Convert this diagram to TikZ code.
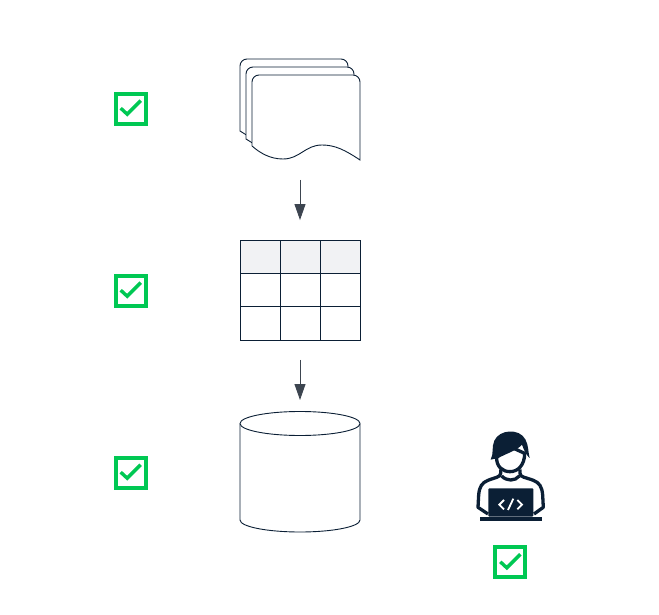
\documentclass[tikz,border=0pt]{standalone}
\usepackage{tikz}
\usetikzlibrary{arrows.meta}
\definecolor{navy}{HTML}{0B1F35}
\definecolor{linegray}{HTML}{3D4550}
\definecolor{headgray}{HTML}{F1F2F4}
\definecolor{checkgreen}{HTML}{00C853}
\tikzstyle{spacer} = [inner sep=0, outer sep=0]
\tikzstyle{flow} = [draw=linegray, line width=0.9pt, -{Triangle[length=16pt,width=11pt]}]
\tikzstyle{page} = [draw=navy, fill=white, line width=0.9pt]
\tikzstyle{cell} = [draw=navy, line width=0.9pt, minimum width=40pt, minimum height=33.3pt, inner sep=0, outer sep=0]
\tikzstyle{checkbox} = [draw=checkgreen, fill=white, line width=4pt, minimum size=30pt, inner sep=0]
\tikzstyle{tick} = [draw=checkgreen, line width=3.4pt]
\tikzstyle{body} = [draw=navy, line width=3.3pt, line join=round]
\newcommand{\checkmarkbox}[2]{
    \node [checkbox] (#1) at (#2) {};
    \draw [tick] ([shift={(-10,-0.5)}]#1.center) -- ([shift={(-3.5,5.5)}]#1.center) -- ([shift={(10,-8)}]#1.center);
}
\begin{document}
\begin{tikzpicture}[x=1pt, y=-1pt]
    \useasboundingbox (0,0) rectangle (659,615);
    % document stack
    \draw [page] (248,136) -- (240,131) [rounded corners=7pt] -- (240,59) -- (348,59) -- (348,100);
    \draw [page] (254,144) -- (246,139) [rounded corners=7pt] -- (246,67) -- (354,67) -- (354,110);
    \draw [page, rounded corners=7pt] (252,146) -- (252,75) -- (360,75) [sharp corners] -- (360,160)
        .. controls (345,150) and (335,145) .. (322,145)
        .. controls (305,145) and (300,159) .. (283,159)
        .. controls (270,159) and (260,153) .. (252,146);
    \node [spacer, minimum width=120pt, minimum height=101pt] (docs) at (300,109.5) {};
    % table
    \foreach \col/\x in {1/260, 2/300, 3/340} {
        \node [cell, fill=headgray] (head\col) at (\x,256.7) {};
        \node [cell] (mid\col) at (\x,290) {};
        \node [cell] (low\col) at (\x,323.3) {};
    }
    % database
    \draw [page] (240,423.5) -- (240,520)
        arc[start angle=180, end angle=0, x radius=60, y radius=12]
        -- (360,423.5) arc[start angle=0, end angle=-180, x radius=60, y radius=12] -- cycle;
    \draw [page] (240,423.5) arc[start angle=180, end angle=0, x radius=60, y radius=12];
    \node [spacer, minimum width=120pt, minimum height=120pt] (db) at (300,472) {};
    % arrows
    \draw [flow, shorten <=20pt, shorten >=20pt] (docs.south) -- (head2.north);
    \draw [flow, shorten <=20pt, shorten >=12pt] (low2.south) -- (db.north);
    % checks
    \checkmarkbox{checkdocs}{130.7,108.7}
    \checkmarkbox{checktable}{130.7,290.7}
    \checkmarkbox{checkdb}{130.7,472.7}
    \checkmarkbox{checkuser}{510.3,562.3}
    % developer
    \begin{scope}[shift={(460,420)}, x=0.3333pt, y=-0.3333pt]
        \draw [body, fill=white] (110,110) .. controls (108,140) and (128,155) .. (150,155)
            .. controls (174,155) and (194,135) .. (194,100) -- (150,80) -- cycle;
        \fill [navy] (92,119) .. controls (102,100) and (94,82) .. (103,62)
            .. controls (118,28) and (178,24) .. (196,58)
            .. controls (206,76) and (204,95) .. (209,114)
            .. controls (198,105) and (192,90) .. (186,74)
            .. controls (170,92) and (140,100) .. (115,114) -- cycle;
        \draw [body] (122,148) -- (122,160) .. controls (122,172) and (105,172) .. (84,181)
            .. controls (66,188) and (58,200) .. (56,225) -- (54,262) -- (84,282);
        \draw [body] (180,148) -- (180,160) .. controls (180,172) and (197,172) .. (220,181)
            .. controls (238,188) and (246,200) .. (248,225) -- (250,262) -- (222,282);
        \draw [body] (125,168) .. controls (140,184) and (165,184) .. (178,168);
        \fill [navy, rounded corners=1pt] (85,205) rectangle (220,290);
        \fill [navy] (60,292) rectangle (245,302);
        \draw [white, line width=1.8pt] (132,240) -- (118,254) -- (132,268);
        \draw [white, line width=1.8pt] (172,240) -- (186,254) -- (172,268);
        \draw [white, line width=1.8pt] (144,270) -- (160,236);
    \end{scope}
\end{tikzpicture}
\end{document}
